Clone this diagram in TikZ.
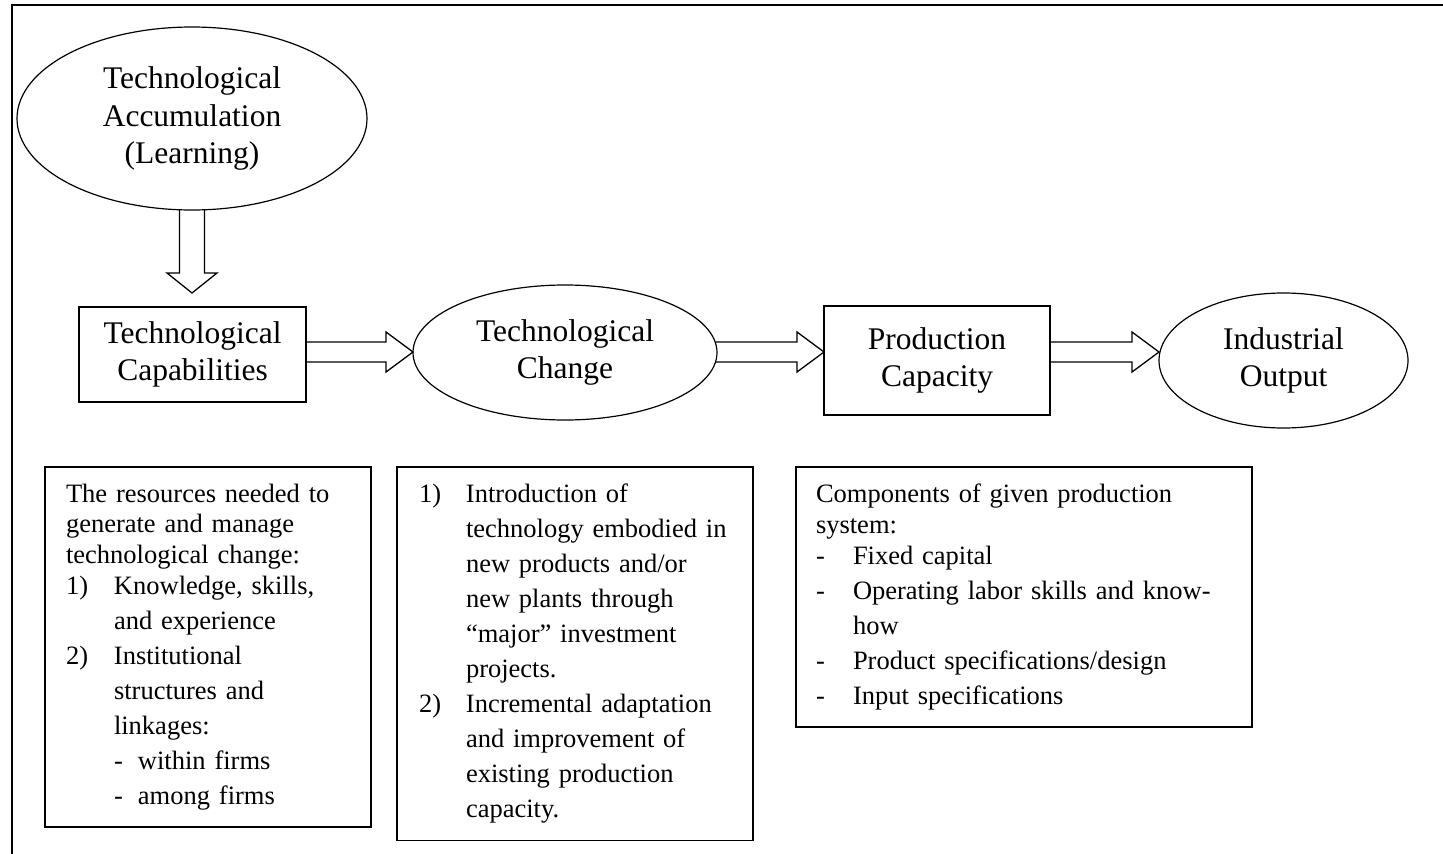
\documentclass[tikz,border=0pt]{standalone}
\usepackage{fontspec}
\setmainfont{Liberation Serif}
\usetikzlibrary{shapes.geometric,calc}

\newcommand{\bigtext}{\fontsize{31.5}{37.5}\selectfont}
\newcommand{\smalltext}{\fontsize{26.5}{30.5}\selectfont}
\newcommand{\lbl}[2]{\makebox[#1][l]{#2}}

\begin{document}
\begin{tikzpicture}[x=1pt, y=-1pt,
  oval/.style={draw, ellipse, line width=1.2pt, align=center, font=\bigtext, inner sep=0pt, outer sep=0pt},
  block/.style={draw, rectangle, line width=1.6pt, align=center, font=\bigtext, outer sep=0pt},
  notes/.style={draw, rectangle, line width=1.6pt, anchor=north west, align=left, font=\smalltext, inner ysep=17pt, outer sep=0pt},
  fat/.style={draw, line width=1.3pt, line join=miter}]

\useasboundingbox (0,0) rectangle (1443,854);
\draw [line width=1.5pt] (12,854) -- (12,5) -- (1443,5);

\node [oval, minimum width=350pt, minimum height=183pt] (acc) at (192,118.5) {Technological\\Accumulation\\(Learning)};
\node [block, minimum width=227pt, minimum height=95pt] (cap) at (192.5,354.5) {Technological\\Capabilities};
\node [oval, minimum width=304pt, minimum height=135pt] (chg) at (565,352.5) {Technological\\Change};
\node [block, minimum width=226pt, minimum height=109pt] (prod) at (937,360.5) {Production\\Capacity};
\node [oval, minimum width=249pt, minimum height=135pt] (out) at (1283.5,360.5) {Industrial\\Output};

\node [notes, text width=284pt, inner xsep=21pt] (res) at (45,467) {The resources needed to\\
  generate and manage\\
  technological change:\\[0.5pt]
  \lbl{48pt}{1)}Knowledge, skills,\\[4.5pt]
  \hspace*{48pt}and experience\\[4.5pt]
  \lbl{48pt}{2)}Institutional\\[4.5pt]
  \hspace*{48pt}structures and\\[4.5pt]
  \hspace*{48pt}linkages:\\[4.5pt]
  \hspace*{48pt}\lbl{24pt}{-}within firms\\[4.5pt]
  \hspace*{48pt}\lbl{24pt}{-}among firms};

\node [notes, text width=312pt, inner xsep=22pt] (chgnotes) at (397,467) {\lbl{47pt}{1)}Introduction of\\[4.5pt]
  \hspace*{47pt}technology embodied in\\[4.5pt]
  \hspace*{47pt}new products and/or\\[4.5pt]
  \hspace*{47pt}new plants through\\[4.5pt]
  \hspace*{47pt}“major” investment\\[4.5pt]
  \hspace*{47pt}projects.\\[4.5pt]
  \lbl{47pt}{2)}Incremental adaptation\\[4.5pt]
  \hspace*{47pt}and improvement of\\[4.5pt]
  \hspace*{47pt}existing production\\[4.5pt]
  \hspace*{47pt}capacity.};

\node [notes, text width=416pt, inner xsep=20pt] (prodnotes) at (796,467) {Components of given production\\
  system:\\[0.5pt]
  \lbl{37pt}{-}Fixed capital\\[4.5pt]
  \lbl{37pt}{-}Operating labor skills and know-\\[4.5pt]
  \hspace*{37pt}how\\[4.5pt]
  \lbl{37pt}{-}Product specifications/design\\[4.5pt]
  \lbl{37pt}{-}Input specifications};

\draw [fat] let \p1 = (acc.south), \p2 = (cap.north) in
  (\x1-12.5pt,\y1) -- (\x1-12.5pt,\y2+34pt) -- (\x1-25pt,\y2+34pt) -- (\x1,\y2+14pt)
  -- (\x1+25pt,\y2+34pt) -- (\x1+12.5pt,\y2+34pt) -- (\x1+12.5pt,\y1);

\coordinate (row) at (0,352);
\foreach \a/\b in {cap/chg,chg/prod,prod/out}
  \draw [fat] let \p1 = (\a.east |- row), \p2 = (\b.west |- row) in
    (\x1-1pt,\y1+10pt) -- (\x2-27pt,\y1+10pt) -- (\x2-27pt,\y1+20pt) -- (\x2,\y1)
    -- (\x2-27pt,\y1-20pt) -- (\x2-27pt,\y1-10pt) -- (\x1-1pt,\y1-10pt);

\end{tikzpicture}
\end{document}
